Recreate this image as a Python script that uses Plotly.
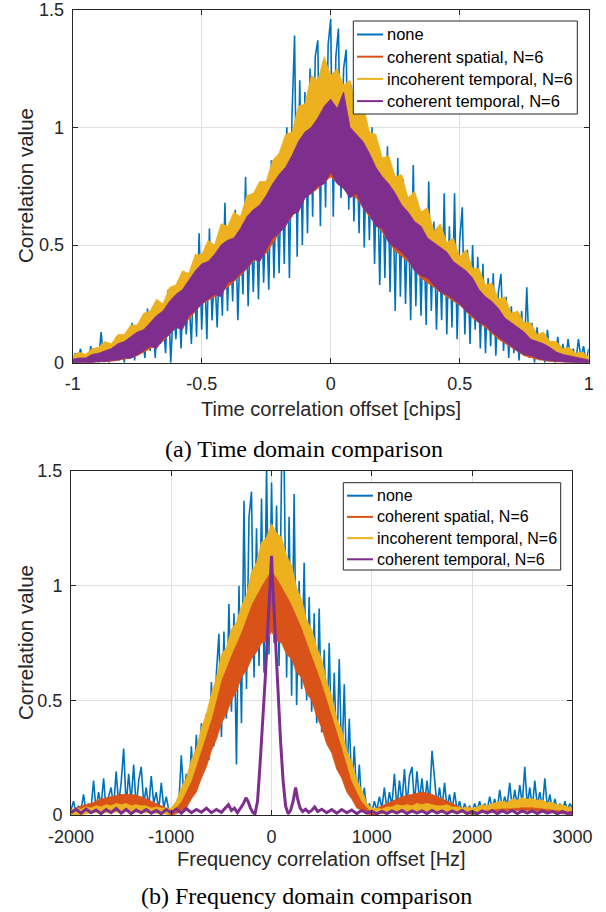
import numpy as np
import plotly.graph_objects as go

# ================= DATA =================
series_names = ["none", "coherent spatial, N=6", "incoherent temporal, N=6", "coherent temporal, N=6"]
series_colors = ["#0072BD", "#D95319", "#EDB120", "#7E2F8E"]

# ---------- (a) time domain, offsets in chips ----------
t_none_x = np.round(np.arange(-1.0, 1.0001, 0.01), 4)      # 201 offsets
t_fine_x = np.round(np.arange(-1.0, 1.0001, 0.025), 4)     # 81 offsets
t_coarse_x = np.round(np.arange(-1.0, 1.0001, 0.05), 4)    # 41 offsets

t_none = [0.01, 0.04, 0.00, 0.06, 0.01, 0.03, 0.00, 0.07, 0.02, 0.05,
          0.00, 0.13, 0.01, 0.08, 0.00, 0.06, 0.02, 0.11, 0.01, 0.09,
          0.00, 0.12, 0.03, 0.17, 0.01, 0.14, 0.04, 0.10, 0.02, 0.23,
          0.05, 0.20, 0.02, 0.26, 0.08, 0.18, 0.04, 0.31, 0.00, 0.24,
          0.10, 0.33, 0.06, 0.38, 0.12, 0.29, 0.08, 0.42, 0.11, 0.55,
          0.14, 0.45, 0.10, 0.57, 0.18, 0.40, 0.15, 0.50, 0.20, 0.68,
          0.22, 0.58, 0.26, 0.65, 0.18, 0.55, 0.29, 0.79, 0.24, 0.62,
          0.30, 0.70, 0.27, 0.76, 0.34, 0.68, 0.31, 0.86, 0.36, 0.80,
          0.38, 0.88, 0.42, 1.00, 0.36, 1.05, 1.39, 0.45, 1.20, 0.50,
          1.15, 0.55, 1.25, 0.62, 1.30, 1.37, 0.58, 1.28, 0.66, 1.35,
          1.46, 0.62, 1.30, 1.42, 0.70, 1.25, 1.33, 0.65, 1.18, 0.60,
          1.05, 0.55, 1.12, 0.49, 0.95, 0.52, 1.00, 0.42, 0.90, 0.33,
          0.85, 0.36, 0.92, 0.30, 0.80, 0.22, 0.87, 0.28, 0.78, 0.25,
          0.70, 0.18, 0.84, 0.24, 0.66, 0.20, 0.62, 0.16, 0.77, 0.22,
          0.60, 0.14, 0.55, 0.18, 0.72, 0.12, 0.58, 0.15, 0.72, 0.10,
          0.52, 0.66, 0.12, 0.48, 0.08, 0.50, 0.14, 0.45, 0.06, 0.42,
          0.04, 0.36, 0.07, 0.38, 0.03, 0.30, 0.377, 0.05, 0.28, 0.02,
          0.24, 0.04, 0.20, 0.01, 0.22, 0.03, 0.32, 0.02, 0.17, 0.00,
          0.15, 0.01, 0.12, 0.00, 0.14, 0.02, 0.09, 0.00, 0.11, 0.01,
          0.08, 0.00, 0.10, 0.01, 0.06, 0.00, 0.10, 0.02, 0.07, 0.00,
          0.06]

# coherent spatial (coarse grid, mostly hidden under coherent temporal)
t_cs_lo = [0.0, 0.0, 0.003, 0.006, 0.015, 0.03, 0.06, 0.09, 0.15, 0.185, 0.25,
           0.28, 0.32, 0.37, 0.43, 0.465, 0.55, 0.62, 0.70, 0.74, 0.79,
           0.74, 0.70, 0.62, 0.555, 0.475, 0.43, 0.36, 0.32, 0.28, 0.245,
           0.19, 0.15, 0.10, 0.065, 0.03, 0.015, 0.005, 0.003, 0.0, 0.0]
t_cs_hi = [0.006, 0.012, 0.02, 0.035, 0.055, 0.085, 0.12, 0.17, 0.22, 0.28, 0.34,
           0.38, 0.42, 0.48, 0.54, 0.60, 0.68, 0.76, 0.84, 0.90, 0.96,
           0.90, 0.84, 0.76, 0.68, 0.60, 0.54, 0.48, 0.42, 0.38, 0.34,
           0.28, 0.22, 0.17, 0.12, 0.085, 0.055, 0.035, 0.02, 0.012, 0.006]
# incoherent temporal: lower edge on coarse grid, upper edge on fine grid
t_it_lo = [0.006, 0.012, 0.02, 0.035, 0.055, 0.085, 0.12, 0.17, 0.22, 0.28, 0.34,
           0.38, 0.42, 0.48, 0.54, 0.60, 0.68, 0.76, 0.84, 0.90, 0.96,
           0.90, 0.84, 0.76, 0.68, 0.60, 0.54, 0.48, 0.42, 0.38, 0.34,
           0.28, 0.22, 0.17, 0.12, 0.085, 0.055, 0.035, 0.02, 0.012, 0.006]
t_it_hi = [0.03, 0.045, 0.035, 0.06, 0.065, 0.09, 0.08, 0.12, 0.12, 0.16,
           0.16, 0.21, 0.22, 0.27, 0.25, 0.32, 0.33, 0.39, 0.38, 0.46,
           0.46, 0.52, 0.50, 0.59, 0.58, 0.64, 0.62, 0.71, 0.72, 0.77,
           0.77, 0.86, 0.89, 0.97, 0.98, 1.09, 1.10, 1.22, 1.20, 1.30,
           1.22, 1.25, 1.18, 1.20, 1.08, 1.10, 0.98, 0.97, 0.87, 0.88,
           0.79, 0.80, 0.70, 0.73, 0.64, 0.66, 0.56, 0.59, 0.51, 0.53,
           0.45, 0.48, 0.40, 0.40, 0.33, 0.34, 0.27, 0.28, 0.21, 0.22,
           0.17, 0.17, 0.12, 0.13, 0.09, 0.09, 0.06, 0.065, 0.04, 0.045,
           0.025]
# coherent temporal (fine grid)
t_ct_lo = [0.0, 0.0, 0.002, 0.0, 0.006, 0.004, 0.01, 0.012, 0.02, 0.018,
           0.035, 0.05, 0.07, 0.06, 0.10, 0.12, 0.15, 0.14, 0.20, 0.22,
           0.25, 0.27, 0.29, 0.28, 0.34, 0.35, 0.38, 0.40, 0.44, 0.43,
           0.48, 0.53, 0.55, 0.58, 0.63, 0.64, 0.70, 0.72, 0.75, 0.76,
           0.81, 0.76, 0.74, 0.70, 0.72, 0.66, 0.63, 0.58, 0.57, 0.51,
           0.49, 0.47, 0.44, 0.39, 0.37, 0.36, 0.33, 0.30, 0.29, 0.27,
           0.25, 0.22, 0.20, 0.17, 0.16, 0.13, 0.11, 0.09, 0.07, 0.05,
           0.035, 0.03, 0.02, 0.012, 0.008, 0.006, 0.004, 0.002, 0.0, 0.0,
           0.0]
t_ct_hi = [0.015, 0.02, 0.02, 0.035, 0.04, 0.05, 0.06, 0.08, 0.09, 0.11,
           0.13, 0.14, 0.17, 0.20, 0.22, 0.26, 0.29, 0.31, 0.35, 0.39,
           0.42, 0.43, 0.46, 0.50, 0.52, 0.53, 0.57, 0.62, 0.65, 0.67,
           0.71, 0.76, 0.80, 0.83, 0.88, 0.94, 0.98, 1.00, 1.04, 1.09,
           1.12, 1.08, 1.15, 1.00, 0.97, 0.94, 0.89, 0.83, 0.79, 0.76,
           0.72, 0.67, 0.64, 0.60, 0.58, 0.53, 0.51, 0.49, 0.47, 0.43,
           0.41, 0.39, 0.36, 0.31, 0.28, 0.26, 0.23, 0.19, 0.17, 0.15,
           0.13, 0.10, 0.09, 0.08, 0.065, 0.045, 0.035, 0.03, 0.025, 0.018,
           0.012]

t_xticks = [-1, -0.5, 0, 0.5, 1]
t_xtick_labels = ["-1", "-0.5", "0", "0.5", "1"]
yticks = [0, 0.5, 1, 1.5]
ytick_labels = ["0", "0.5", "1", "1.5"]

# ---------- (b) frequency domain, offsets in Hz ----------
f_none_x = np.arange(-2000, 3001, 25)      # 201 offsets
f_fine_x = np.arange(-2000, 3001, 50)      # 101 offsets
f_coarse_x = np.arange(-2000, 3001, 100)   # 51 offsets

f_none = [0.02, 0.06, 0.01, 0.04, 0.02, 0.09, 0.01, 0.05, 0.03, 0.15,
          0.02, 0.10, 0.04, 0.16, 0.02, 0.08, 0.12, 0.03, 0.19, 0.05,
          0.14, 0.29, 0.04, 0.18, 0.06, 0.22, 0.03, 0.15, 0.21, 0.05,
          0.12, 0.03, 0.17, 0.05, 0.10, 0.02, 0.14, 0.03, 0.08, 0.02,
          0.02, 0.04, 0.01, 0.05, 0.26, 0.08, 0.18, 0.06, 0.30, 0.12,
          0.35, 0.16, 0.40, 0.20, 0.44, 0.24, 0.58, 0.30, 0.62, 0.79,
          0.34, 0.80, 0.42, 0.92, 0.45, 0.88, 0.22, 1.00, 0.40, 1.37,
          0.55, 1.30, 1.41, 0.60, 1.25, 0.65, 1.38, 0.62, 1.52, 0.70,
          1.45, 0.75, 1.35, 0.65, 1.52, 1.55, 0.60, 1.30, 0.52, 1.40,
          0.48, 1.02, 0.55, 1.10, 0.50, 0.95, 0.45, 0.88, 0.40, 0.90,
          0.36, 0.72, 0.32, 0.75, 0.28, 0.62, 0.24, 0.68, 0.20, 0.57,
          0.15, 0.42, 0.10, 0.30, 0.06, 0.22, 0.03, 0.12, 0.02, 0.05,
          0.01, 0.06, 0.02, 0.08, 0.03, 0.12, 0.02, 0.10, 0.04, 0.18,
          0.03, 0.15, 0.05, 0.20, 0.04, 0.17, 0.21, 0.05, 0.19, 0.06,
          0.16, 0.04, 0.15, 0.05, 0.28, 0.14, 0.04, 0.12, 0.03, 0.14,
          0.03, 0.09, 0.02, 0.10, 0.02, 0.06, 0.01, 0.05, 0.02, 0.04,
          0.01, 0.05, 0.02, 0.06, 0.01, 0.05, 0.02, 0.08, 0.03, 0.07,
          0.02, 0.11, 0.03, 0.08, 0.04, 0.14, 0.03, 0.11, 0.04, 0.13,
          0.05, 0.21, 0.04, 0.12, 0.03, 0.15, 0.04, 0.10, 0.03, 0.16,
          0.03, 0.09, 0.02, 0.07, 0.03, 0.05, 0.01, 0.06, 0.02, 0.05,
          0.03]

# coherent spatial: upper edge coarse grid, lower edge fine grid
f_cs_hi = [0.02, 0.04, 0.05, 0.07, 0.08, 0.09, 0.09, 0.08, 0.06, 0.04, 0.02,
           0.06, 0.15, 0.28, 0.42, 0.60, 0.70, 0.80, 0.92, 1.00, 1.07,
           1.00, 0.92, 0.82, 0.70, 0.58, 0.44, 0.30, 0.15, 0.06,
           0.02, 0.04, 0.06, 0.08, 0.09, 0.10, 0.09, 0.07, 0.05, 0.03, 0.02,
           0.02, 0.03, 0.03, 0.04, 0.04, 0.04, 0.03, 0.03, 0.02, 0.02]
f_cs_lo = [0.00, 0.01, 0.01, 0.02, 0.02, 0.03, 0.03, 0.035, 0.03, 0.04,
           0.04, 0.045, 0.04, 0.035, 0.03, 0.025, 0.02, 0.015, 0.01, 0.005, 0.00,
           0.005, 0.02, 0.03, 0.07, 0.10, 0.16, 0.21, 0.28, 0.33, 0.40,
           0.44, 0.50, 0.54, 0.60, 0.63, 0.68, 0.71, 0.75, 0.76, 0.80,
           0.76, 0.75, 0.70, 0.68, 0.62, 0.60, 0.53, 0.50, 0.43, 0.38,
           0.31, 0.27, 0.20, 0.16, 0.10, 0.07, 0.03, 0.02, 0.005,
           0.00, 0.005, 0.01, 0.015, 0.02, 0.025, 0.03, 0.035, 0.04, 0.04,
           0.045, 0.04, 0.04, 0.035, 0.03, 0.03, 0.025, 0.02, 0.015, 0.01, 0.00,
           0.005, 0.01, 0.01, 0.01, 0.015, 0.015, 0.02, 0.02, 0.02, 0.02,
           0.02, 0.02, 0.015, 0.015, 0.01, 0.01, 0.01, 0.005, 0.005, 0.00]
# incoherent temporal: lower edge coarse grid, upper edge fine grid
f_it_lo = [0.00, 0.00, 0.01, 0.01, 0.01, 0.015, 0.015, 0.01, 0.01, 0.005, 0.005,
           0.06, 0.15, 0.28, 0.42, 0.59, 0.70, 0.80, 0.92, 1.00, 1.07,
           1.00, 0.92, 0.82, 0.70, 0.58, 0.44, 0.30, 0.15, 0.06,
           0.01, 0.005, 0.01, 0.01, 0.015, 0.015, 0.015, 0.01, 0.01, 0.01, 0.01,
           0.02, 0.025, 0.03, 0.03, 0.035, 0.035, 0.03, 0.025, 0.02, 0.015]
f_it_hi = [0.02, 0.03, 0.025, 0.035, 0.03, 0.04, 0.035, 0.045, 0.04, 0.05,
           0.045, 0.05, 0.04, 0.045, 0.04, 0.04, 0.03, 0.035, 0.03, 0.03, 0.03,
           0.06, 0.12, 0.16, 0.24, 0.29, 0.38, 0.44, 0.53, 0.60, 0.70,
           0.73, 0.81, 0.84, 0.91, 0.96, 1.06, 1.10, 1.19, 1.21, 1.27,
           1.23, 1.21, 1.13, 1.09, 0.99, 0.94, 0.85, 0.81, 0.73, 0.68,
           0.58, 0.52, 0.42, 0.37, 0.28, 0.23, 0.15, 0.11, 0.05,
           0.03, 0.03, 0.025, 0.035, 0.035, 0.045, 0.04, 0.045, 0.04, 0.05,
           0.045, 0.05, 0.045, 0.04, 0.04, 0.045, 0.035, 0.035, 0.03, 0.035, 0.03,
           0.035, 0.045, 0.04, 0.05, 0.055, 0.06, 0.055, 0.07, 0.065, 0.075,
           0.07, 0.07, 0.065, 0.065, 0.055, 0.055, 0.045, 0.045, 0.035, 0.03]

f_ct_x = np.concatenate([
    np.arange(-2000, -499, 50),
    [-460, -430, -400, -370, -340, -310, -280, -255, -235, -210,
     -185, -165, -140, -115, -90, -65, -45, -25, -10, 0,
     10, 25, 45, 65, 90, 115, 140, 165, 190, 215,
     240, 260, 285, 310, 340, 370, 400, 430, 460],
    np.arange(500, 3001, 50)])
f_ct = [0.01, 0.025, 0.008, 0.026, 0.01, 0.022, 0.006, 0.024, 0.01, 0.028,
        0.008, 0.024, 0.006, 0.022, 0.01, 0.024, 0.008, 0.02, 0.006, 0.024,
        0.01, 0.026, 0.008, 0.028, 0.01, 0.024, 0.012, 0.03, 0.01, 0.024, 0.012,
        0.03, 0.045, 0.02, 0.03, 0.01, 0.03, 0.05, 0.075, 0.06, 0.03,
        0.01, 0.005, 0.06, 0.22, 0.38, 0.58, 0.75, 0.92, 1.05, 1.13,
        1.02, 0.88, 0.70, 0.52, 0.32, 0.15, 0.04, 0.005, 0.02, 0.06,
        0.12, 0.07, 0.03, 0.015, 0.025, 0.012, 0.02, 0.035, 0.015,
        0.025, 0.01, 0.024, 0.008, 0.024, 0.01, 0.022, 0.006, 0.02, 0.008,
        0.016, 0.005, 0.016, 0.006, 0.018, 0.008, 0.02, 0.006, 0.018, 0.008,
        0.018, 0.006, 0.02, 0.008, 0.018, 0.006, 0.018, 0.008, 0.02, 0.006,
        0.016, 0.005, 0.018, 0.008, 0.02, 0.006, 0.018, 0.008, 0.02, 0.006,
        0.018, 0.008, 0.018, 0.006, 0.018, 0.008, 0.016, 0.005, 0.016, 0.006,
        0.012]

f_xticks = [-2000, -1000, 0, 1000, 2000, 3000]
f_xtick_labels = ["-2000", "-1000", "0", "1000", "2000", "3000"]

# ================= FIGURE =================
SANS = "Liberation Sans, Arial, Helvetica, sans-serif"
SERIF = "Liberation Serif, Times New Roman, serif"
AXC = "#262626"
W, H = 606, 912

fig = go.Figure()


def line(x, y, color, xa, ya, width):
    fig.add_trace(go.Scatter(x=np.asarray(x, float), y=y, mode="lines",
                             line=dict(color=color, width=width),
                             xaxis=xa, yaxis=ya, showlegend=False, hoverinfo="skip"))


def band(x_hi, hi, x_lo, lo, color, xa, ya):
    xh = list(np.asarray(x_hi, float))
    xl = list(np.asarray(x_lo, float))
    fig.add_trace(go.Scatter(x=xh + xl[::-1], y=list(hi) + list(lo)[::-1],
                             mode="lines", fill="toself", fillcolor=color,
                             line=dict(color=color, width=0.8),
                             xaxis=xa, yaxis=ya, showlegend=False, hoverinfo="skip"))


# (a) time domain
line(t_none_x, t_none, series_colors[0], "x", "y", 1.6)
band(t_coarse_x, t_cs_hi, t_coarse_x, t_cs_lo, series_colors[1], "x", "y")
band(t_fine_x, t_it_hi, t_coarse_x, t_it_lo, series_colors[2], "x", "y")
band(t_fine_x, t_ct_hi, t_fine_x, t_ct_lo, series_colors[3], "x", "y")

# (b) frequency domain
line(f_none_x, f_none, series_colors[0], "x2", "y2", 1.6)
band(f_coarse_x, f_cs_hi, f_fine_x, f_cs_lo, series_colors[1], "x2", "y2")
band(f_fine_x, f_it_hi, f_coarse_x, f_it_lo, series_colors[2], "x2", "y2")
line(f_ct_x, f_ct, series_colors[3], "x2", "y2", 3.0)

axis_common = dict(showline=True, linecolor=AXC, linewidth=1, mirror="ticks",
                   ticks="inside", ticklen=5, tickcolor=AXC, tickwidth=1,
                   showgrid=True, gridcolor="#dfdfdf", gridwidth=1, zeroline=False,
                   automargin=False,
                   tickfont=dict(family=SANS, size=18, color=AXC))

fig.update_layout(
    width=W, height=H, margin=dict(l=0, r=0, t=0, b=0, autoexpand=False),
    paper_bgcolor="white", plot_bgcolor="white", showlegend=False,
    xaxis=dict(axis_common, domain=[72.7 / W, 588.7 / W], range=[-1, 1], anchor="y",
               tickmode="array", tickvals=t_xticks, ticktext=t_xtick_labels,
               ticklabelstandoff=5),
    yaxis=dict(axis_common, domain=[1 - 362.7 / H, 1 - 9.7 / H], range=[0, 1.5], anchor="x",
               tickmode="array", tickvals=yticks, ticktext=ytick_labels,
               ticklabelstandoff=4),
    xaxis2=dict(axis_common, domain=[71.0 / W, 572.4 / W], range=[-2000, 3000], anchor="y2",
                tickmode="array", tickvals=f_xticks, ticktext=f_xtick_labels,
                ticklabelstandoff=5),
    yaxis2=dict(axis_common, domain=[1 - 815 / H, 1 - 471 / H], range=[0, 1.5], anchor="x2",
                tickmode="array", tickvals=yticks, ticktext=ytick_labels,
                ticklabelstandoff=4),
)


# ---- legends (box, line samples, labels) ----
def legend_box(x0, x1, y0, y1, rows, text_x, line_x0, line_x1, size):
    fig.add_shape(type="rect", xref="paper", yref="paper",
                  x0=x0 / W, x1=x1 / W, y0=1 - y1 / H, y1=1 - y0 / H,
                  line=dict(color=AXC, width=1), fillcolor="white", layer="above")
    for name, col, ry in zip(series_names, series_colors, rows):
        fig.add_shape(type="line", xref="paper", yref="paper",
                      x0=line_x0 / W, x1=line_x1 / W, y0=1 - ry / H, y1=1 - ry / H,
                      line=dict(color=col, width=2), layer="above")
        fig.add_annotation(xref="paper", yref="paper", x=text_x / W, y=1 - ry / H,
                           text=name, showarrow=False, xanchor="left", yanchor="middle",
                           font=dict(family=SANS, size=size, color="black"))


legend_box(353.3, 577.3, 21, 114, [34.5, 56.7, 78.9, 101.1], 385, 357, 383, 16.5)
legend_box(343.3, 560.7, 482.7, 570, [495.7, 516.9, 538.1, 559.3], 375, 347, 373, 16)

annos = [
    dict(text="Time correlation offset [chips]", x=330.7 / W, y=1 - 409 / H,
         font=dict(family=SANS, size=20, color=AXC)),
    dict(text="Correlation value", x=25 / W, y=1 - 186 / H, textangle=-90,
         font=dict(family=SANS, size=20.5, color=AXC)),
    dict(text="(a) Time domain comparison", x=304 / W, y=1 - 449 / H,
         font=dict(family=SERIF, size=24, color="black")),
    dict(text="Frequency correlation offset [Hz]", x=321.7 / W, y=1 - 859 / H,
         font=dict(family=SANS, size=20, color=AXC)),
    dict(text="Correlation value", x=25 / W, y=1 - 643 / H, textangle=-90,
         font=dict(family=SANS, size=20.5, color=AXC)),
    dict(text="(b) Frequency domain comparison", x=306.5 / W, y=1 - 896 / H,
         font=dict(family=SERIF, size=24, color="black")),
]
for a in annos:
    fig.add_annotation(xref="paper", yref="paper", showarrow=False,
                       xanchor="center", yanchor="middle", **a)

fig.write_html("out.html", config={"displayModeBar": False},
               post_script="document.body.style.margin='0px';document.body.style.padding='0px';")
